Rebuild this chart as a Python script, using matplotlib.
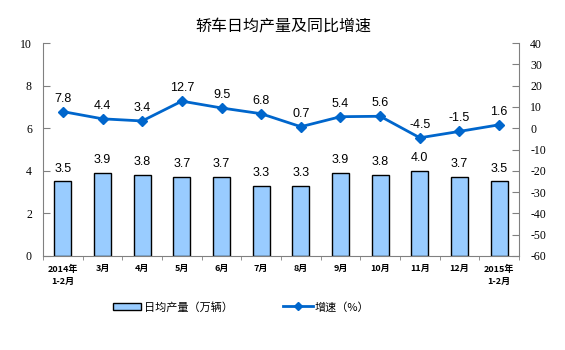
import matplotlib
matplotlib.use("Agg")
import matplotlib.pyplot as plt
from matplotlib.lines import Line2D
from matplotlib.patches import Patch

plt.rcParams['font.family'] = ['Noto Sans CJK SC', 'DejaVu Sans']

categories = ["2014年\n1-2月", "3月", "4月", "5月", "6月", "7月", "8月", "9月", "10月", "11月", "12月", "2015年\n1-2月"]
output = [3.5, 3.9, 3.8, 3.7, 3.7, 3.3, 3.3, 3.9, 3.8, 4.0, 3.7, 3.5]
growth = [7.8, 4.4, 3.4, 12.7, 9.5, 6.8, 0.7, 5.4, 5.6, -4.5, -1.5, 1.6]
left_ticks = [0, 2, 4, 6, 8, 10]
right_ticks = [-60, -50, -40, -30, -20, -10, 0, 10, 20, 30, 40]

bar_color = "#99CCFF"
line_color = "#0066CC"
spine_color = "#808080"

fig = plt.figure(figsize=(5.65, 3.5), dpi=100)
ax = fig.add_axes([43/565, 1-256/350, (519-43)/565, (256-43)/350])
x = list(range(len(categories)))
ax.bar(x, output, width=0.43, color=bar_color, edgecolor="black", linewidth=1.0, zorder=2)
for xi, v in zip(x, output):
    ax.annotate(f"{v:.1f}", (xi, v), xytext=(0, 5), textcoords="offset points",
                ha="center", va="bottom", fontsize=9, family="Liberation Sans")
ax.set_xlim(-0.5, len(categories)-0.5)
ax.set_ylim(0, 10)
ax.set_yticks(left_ticks)
ax.set_yticklabels([str(t) for t in left_ticks], fontsize=8.5, family="Liberation Serif")
ax.set_xticks(x)
ax.set_xticklabels(categories, fontsize=6.5, fontweight="bold", linespacing=1.5)
ax.set_xticks([i - 0.5 for i in range(len(categories)+1)], minor=True)
ax.tick_params(axis="x", which="major", length=0, pad=6)
ax.tick_params(axis="x", which="minor", length=3, direction="out", color=spine_color)
ax.tick_params(axis="y", direction="in", length=5, color=spine_color, pad=8)
for s in ["top", "right"]:
    ax.spines[s].set_visible(False)
ax.spines["left"].set_color(spine_color)
ax.spines["bottom"].set_color(spine_color)

ax2 = ax.twinx()
ax2.plot(x, growth, color=line_color, linewidth=2, marker="D", markersize=5, zorder=3)
for xi, v in zip(x, growth):
    ax2.annotate(f"{v:.1f}", (xi, v), xytext=(0, 5), textcoords="offset points",
                 ha="center", va="bottom", fontsize=9, family="Liberation Sans")
ax2.set_ylim(-60, 40)
ax2.set_yticks(right_ticks)
ax2.set_yticklabels([str(t) for t in right_ticks], fontsize=8.5, family="Liberation Serif")
ax2.tick_params(axis="y", direction="in", length=5, color=spine_color, pad=8)
for s in ["top", "left", "bottom"]:
    ax2.spines[s].set_visible(False)
ax2.spines["right"].set_color(spine_color)

fig.text(283/565, 1-27/350, "轿车日均产量及同比增速", ha="center", va="center", fontsize=11.5)

h1 = Patch(facecolor=bar_color, edgecolor="black", linewidth=1.0)
h2 = Line2D([0], [0], color=line_color, linewidth=2, marker="D", markersize=4)
leg1 = fig.legend([h1], ["日均产量（万辆）"], loc="center left",
                  bbox_to_anchor=(113/565, 1-307/350), frameon=False, borderpad=0,
                  borderaxespad=0, fontsize=8, handlelength=2.5, handletextpad=0.3,
                  handleheight=0.7)
leg2 = fig.legend([h2], ["增速（%）"], loc="center left",
                  bbox_to_anchor=(283/565, 1-307/350), frameon=False, borderpad=0,
                  borderaxespad=0, fontsize=8, handlelength=2.7, handletextpad=0.1)

fig.savefig("out.png", dpi=100)
